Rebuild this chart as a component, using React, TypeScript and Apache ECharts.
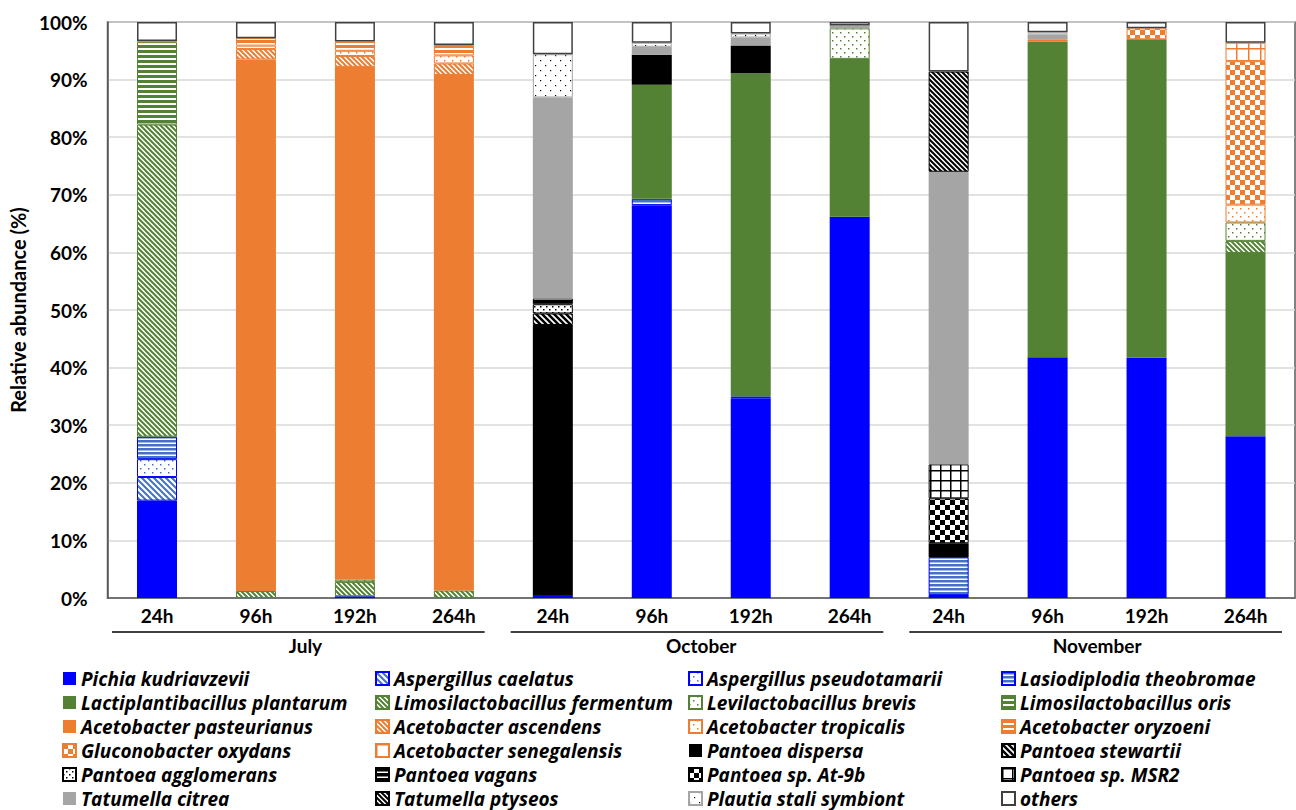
import React, { useEffect, useRef } from 'react';
import * as echarts from 'echarts';

const months = ['July', 'October', 'November'];
const times = ['24h', '96h', '192h', '264h'];
const categories = months.flatMap((m) => times.map((t) => `${m}|${t}`));
const yTicks = { min: 0, max: 100, interval: 10 };

// values in %, order: July 24h,96h,192h,264h | October ... | November ...
const pichiaKudriavzevii = [16.9, 0, 0.3, 0, 0.5, 68.2, 34.7, 66.2, 0.5, 41.8, 41.7, 28.1];
const aspergillusCaelatus = [4.1, 0, 0, 0, 0, 0, 0, 0, 0, 0, 0, 0];
const aspergillusPseudotamarii = [3.1, 0, 0, 0, 0, 0, 0, 0, 0, 0, 0, 0];
const lasiodiplodiaTheobromae = [3.9, 0, 0, 0, 0, 1.1, 0.3, 0, 6.6, 0, 0, 0];
const lactiplantibacillusPlantarum = [0, 0, 0, 0, 0, 19.8, 56.1, 27.4, 0, 54.8, 55.3, 31.8];
const limosilactobacillusFermentum = [54.2, 1.2, 2.5, 1.3, 0, 0, 0, 0, 0, 0, 0, 2.1];
const levilactobacillusBrevis = [0, 0, 0.4, 0, 0, 0, 0, 5.3, 0, 0, 0, 3.2];
const limosilactobacillusOris = [14.3, 0, 0, 0, 0, 0, 0, 0, 0, 0, 0, 0];
const acetobacterPasteurianus = [0.2, 92.3, 89.0, 89.5, 0, 0, 0, 0, 0, 0, 0, 0];
const acetobacterAscendens = [0, 1.8, 1.9, 2.0, 0, 0, 0, 0, 0, 0, 0, 0];
const acetobacterTropicalis = [0, 0.6, 0.9, 1.4, 0, 0, 0, 0, 0, 0, 0, 3.1];
const acetobacterOryzoeni = [0, 1.3, 1.6, 1.8, 0, 0, 0, 0, 0, 0.4, 0, 0];
const gluconobacterOxydans = [0, 0, 0, 0, 0, 0, 0, 0, 0, 0, 1.9, 24.9];
const acetobacterSenegalensis = [0, 0, 0, 0, 0, 0, 0, 0, 0, 0, 0, 3.2];
const pantoeaDispersa = [0, 0, 0, 0, 46.9, 5.2, 4.8, 0, 2.4, 0, 0, 0];
const pantoeaStewartii = [0, 0, 0, 0, 2.0, 0, 0, 0, 0, 0, 0, 0];
const pantoeaAgglomerans = [0, 0, 0, 0, 1.6, 0, 0, 0, 0, 0, 0, 0];
const pantoeaVagans = [0, 0, 0, 0, 1.0, 0, 0, 0, 0, 0, 0, 0];
const pantoeaAt9b = [0, 0, 0, 0, 0, 0, 0, 0, 7.8, 0, 0, 0];
const pantoeaMSR2 = [0, 0, 0, 0, 0, 0, 0, 0, 5.9, 0, 0, 0];
const tatumellaCitrea = [0, 0, 0, 0, 34.9, 1.4, 1.4, 0.5, 50.8, 0.8, 0, 0];
const tatumellaPtyseos = [0, 0, 0, 0, 0, 0, 0, 0, 17.4, 0, 0, 0];
const plautiaStaliSymbiont = [0, 0, 0, 0, 7.5, 0.7, 0.7, 0, 0, 0.4, 0, 0];
const others = [3.3, 2.8, 3.4, 4.0, 5.6, 3.6, 2.0, 0.6, 8.6, 1.8, 1.1, 3.6];

const FONT = 'Lato';
const LEGEND_FONT = 'Open Sans';
const BLUE = '#0000FF';
const LBLUE = '#4472C4';
const GREEN = '#548235';
const ORANGE = '#ED7D31';
const GRAY = '#A5A5A5';
const BLACK = '#000000';

function tile(w: number, h: number, draw: (ctx: CanvasRenderingContext2D) => void) {
  const c = document.createElement('canvas');
  c.width = w;
  c.height = h;
  const ctx = c.getContext('2d')!;
  draw(ctx);
  return { image: c, repeat: 'repeat' } as any;
}
const diag = (fg: string, bg: string, s: number, lw: number) =>
  tile(s, s, (ctx) => {
    ctx.fillStyle = bg;
    ctx.fillRect(0, 0, s, s);
    ctx.strokeStyle = fg;
    ctx.lineWidth = lw;
    ctx.beginPath();
    for (const o of [-s, 0, s]) {
      ctx.moveTo(o - 2, -2);
      ctx.lineTo(o + s + 2, s + 2);
    }
    ctx.stroke();
  });
const dots = (fg: string, bg: string, s: number, r: number) =>
  tile(s * 2, s * 2, (ctx) => {
    ctx.fillStyle = bg;
    ctx.fillRect(0, 0, s * 2, s * 2);
    ctx.fillStyle = fg;
    ctx.fillRect(0, 0, r, r);
    ctx.fillRect(s, s, r, r);
  });
const hlines = (fg: string, bg: string, p: number, t: number) =>
  tile(4, p, (ctx) => {
    ctx.fillStyle = bg;
    ctx.fillRect(0, 0, 4, p);
    ctx.fillStyle = fg;
    ctx.fillRect(0, 0, 4, t);
  });
const checker = (fg: string, bg: string, s: number) =>
  tile(s * 2, s * 2, (ctx) => {
    ctx.fillStyle = bg;
    ctx.fillRect(0, 0, s * 2, s * 2);
    ctx.fillStyle = fg;
    ctx.fillRect(0, 0, s, s);
    ctx.fillRect(s, s, s, s);
  });
const grid = (fg: string, bg: string, w: number, h: number, lw: number) =>
  tile(w, h, (ctx) => {
    ctx.fillStyle = bg;
    ctx.fillRect(0, 0, w, h);
    ctx.fillStyle = fg;
    ctx.fillRect(0, 0, w, lw);
    ctx.fillRect(0, 0, lw, h);
  });

export default function App() {
  const ref = useRef<HTMLDivElement>(null);
  useEffect(() => {
    if (!ref.current) return;
    const chart = echarts.init(ref.current, undefined, { renderer: 'svg' });

    const defs: { name: string; data: number[]; fill: any; border: string; bw: number }[] = [
      { name: 'Pichia kudriavzevii', data: pichiaKudriavzevii, fill: BLUE, border: BLUE, bw: 0 },
      { name: 'Aspergillus caelatus', data: aspergillusCaelatus, fill: diag(LBLUE, '#fff', 6, 2), border: BLUE, bw: 1 },
      { name: 'Aspergillus pseudotamarii', data: aspergillusPseudotamarii, fill: dots(LBLUE, '#fff', 4, 1.5), border: BLUE, bw: 1 },
      { name: 'Lasiodiplodia theobromae', data: lasiodiplodiaTheobromae, fill: hlines(LBLUE, '#fff', 4.5, 2.5), border: BLUE, bw: 1 },
      { name: 'Lactiplantibacillus plantarum', data: lactiplantibacillusPlantarum, fill: GREEN, border: GREEN, bw: 0 },
      { name: 'Limosilactobacillus fermentum', data: limosilactobacillusFermentum, fill: diag(GREEN, '#fff', 5, 2), border: GREEN, bw: 1 },
      { name: 'Levilactobacillus brevis', data: levilactobacillusBrevis, fill: dots(GREEN, '#fff', 4, 1.5), border: GREEN, bw: 1 },
      { name: 'Limosilactobacillus oris', data: limosilactobacillusOris, fill: hlines(GREEN, '#fff', 5, 3), border: GREEN, bw: 1 },
      { name: 'Acetobacter pasteurianus', data: acetobacterPasteurianus, fill: ORANGE, border: ORANGE, bw: 0 },
      { name: 'Acetobacter ascendens', data: acetobacterAscendens, fill: diag(ORANGE, '#fff', 5, 2), border: ORANGE, bw: 1 },
      { name: 'Acetobacter tropicalis', data: acetobacterTropicalis, fill: dots(ORANGE, '#fff', 4, 1.5), border: ORANGE, bw: 1 },
      { name: 'Acetobacter oryzoeni', data: acetobacterOryzoeni, fill: hlines(ORANGE, '#fff', 5, 3), border: ORANGE, bw: 1 },
      { name: 'Gluconobacter oxydans', data: gluconobacterOxydans, fill: checker(ORANGE, '#fff', 5), border: ORANGE, bw: 1 },
      { name: 'Acetobacter senegalensis', data: acetobacterSenegalensis, fill: grid(ORANGE, '#fff', 12, 12, 1.5), border: ORANGE, bw: 1 },
      { name: 'Pantoea dispersa', data: pantoeaDispersa, fill: BLACK, border: BLACK, bw: 0 },
      { name: 'Pantoea stewartii', data: pantoeaStewartii, fill: diag(BLACK, '#fff', 6, 2.5), border: BLACK, bw: 1 },
      { name: 'Pantoea agglomerans', data: pantoeaAgglomerans, fill: dots(BLACK, '#fff', 3, 1.5), border: BLACK, bw: 1 },
      { name: 'Pantoea vagans', data: pantoeaVagans, fill: hlines(BLACK, '#fff', 5, 3.5), border: BLACK, bw: 1 },
      { name: 'Pantoea sp. At-9b', data: pantoeaAt9b, fill: checker(BLACK, '#fff', 5), border: BLACK, bw: 1 },
      { name: 'Pantoea sp. MSR2', data: pantoeaMSR2, fill: grid(BLACK, '#fff', 10, 10, 1.5), border: BLACK, bw: 1 },
      { name: 'Tatumella citrea', data: tatumellaCitrea, fill: GRAY, border: GRAY, bw: 0 },
      { name: 'Tatumella ptyseos', data: tatumellaPtyseos, fill: diag(BLACK, '#fff', 5, 2), border: BLACK, bw: 1 },
      { name: 'Plautia stali symbiont', data: plautiaStaliSymbiont, fill: dots(BLACK, '#fff', 5, 1.2), border: GRAY, bw: 1 },
      { name: 'others', data: others, fill: '#ffffff', border: '#404040', bw: 1.5 },
    ];

    const gridLeft = 99;
    const gridTop = 22;
    const gridRight = 1;
    const gridBottom = 212;
    const plotW = 1296 - gridLeft - gridRight;
    const groupW = plotW / months.length;
    const lineY = 632;

    const legendCols = [62, 375, 688, 1001];
    const legends = legendCols.map((left, c) => ({
      orient: 'vertical',
      left,
      top: 669,
      height: 160,
      padding: 0,
      itemWidth: 13,
      itemHeight: 13,
      itemGap: 5,
      icon: 'rect',
      selectedMode: false,
      textStyle: {
        fontFamily: LEGEND_FONT,
        fontSize: 19,
        fontWeight: 'bold',
        fontStyle: 'italic',
        color: '#000',
        lineHeight: 18,
      },
      data: defs.filter((_, i) => i % 4 === c).map((d) => d.name),
    }));

    chart.setOption({
      animation: false,
      backgroundColor: '#fff',
      grid: {
        left: gridLeft,
        top: gridTop,
        right: gridRight,
        bottom: gridBottom,
        show: true,
        borderColor: '#595959',
        borderWidth: 1.5,
        backgroundColor: 'transparent',
      },
      legend: legends,
      xAxis: [
        {
          type: 'category',
          data: categories,
          axisTick: { show: false },
          axisLine: { lineStyle: { color: '#595959', width: 1.5 } },
          axisLabel: {
            formatter: (v: string) => v.split('|')[1],
            fontFamily: FONT,
            fontSize: 19,
            fontWeight: 'bold',
            color: '#000',
            margin: 8,
          },
        },
        {
          type: 'category',
          data: months,
          position: 'bottom',
          offset: 30,
          axisTick: { show: false },
          axisLine: { show: false },
          splitLine: { show: false },
          axisLabel: {
            fontFamily: FONT,
            fontSize: 19,
            fontWeight: 'bold',
            color: '#000',
            margin: 8,
          },
        },
      ],
      yAxis: {
        type: 'value',
        min: yTicks.min,
        max: yTicks.max,
        interval: yTicks.interval,
        name: 'Relative abundance (%)',
        nameLocation: 'middle',
        nameGap: 68,
        nameTextStyle: { fontFamily: FONT, fontSize: 20, fontWeight: 'bold', color: '#000' },
        axisLine: { show: true, lineStyle: { color: '#595959', width: 1.5 } },
        axisTick: { show: false },
        splitLine: { lineStyle: { color: '#D9D9D9', width: 1.5 } },
        axisLabel: {
          formatter: '{value}%',
          fontFamily: FONT,
          fontSize: 19,
          fontWeight: 'bold',
          color: '#000',
          margin: 20,
        },
      },
      graphic: months.map((_, g) => ({
        type: 'line',
        silent: true,
        shape: {
          x1: gridLeft + g * groupW + 13,
          y1: lineY,
          x2: gridLeft + (g + 1) * groupW - 13,
          y2: lineY,
        },
        style: { stroke: '#000', lineWidth: 1.5 },
      })),
      series: defs.map((d) => ({
        name: d.name,
        type: 'bar',
        stack: 'total',
        barWidth: 40,
        xAxisIndex: 0,
        data: d.data.map((v) => (v === 0 ? null : v)),
        itemStyle: { color: d.fill, borderColor: d.border, borderWidth: d.bw },
        emphasis: { disabled: true },
      })),
    });
    return () => chart.dispose();
  }, []);
  return (
    <div
      ref={ref}
      style={{ position: 'fixed', left: 0, top: 0, width: 1296, height: 810, background: '#fff' }}
    />
  );
}
